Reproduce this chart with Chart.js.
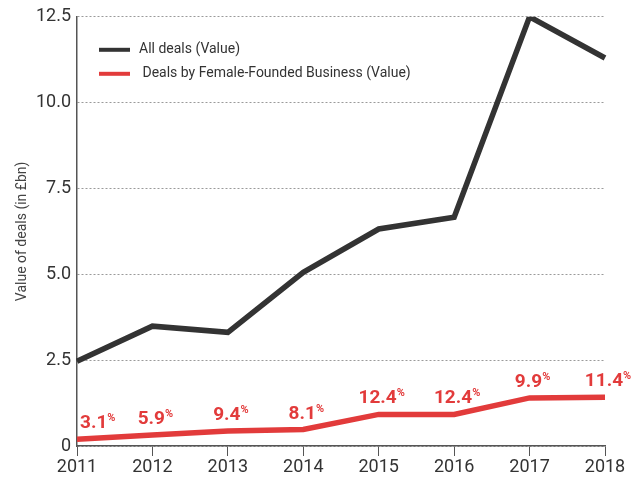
<!DOCTYPE html>
<html>
<head>
<meta charset="utf-8">
<script src="https://cdn.jsdelivr.net/npm/chart.js@4"></script>
<style>
  html, body { margin: 0; padding: 0; background: #fff; }
  #wrap { width: 638px; height: 481px; }
</style>
</head>
<body>
<div id="wrap"><canvas id="chart_deals" width="638" height="481"></canvas></div>
<script>
// values
let years = ['2011', '2012', '2013', '2014', '2015', '2016', '2017', '2018'],
    allDeals = [2.47, 3.49, 3.31, 5.06, 6.32, 6.66, 12.5, 11.3],
    femaleDeals = [0.2, 0.32, 0.44, 0.48, 0.92, 0.92, 1.4, 1.42],
    femaleShare = ['3.1', '5.9', '9.4', '8.1', '12.4', '12.4', '9.9', '11.4'],
    yTicks = [0, 2.5, 5, 7.5, 10, 12.5];

const FONT = 'Roboto, "DejaVu Sans", sans-serif';
const RED = '#e23b3b';
const DARK = '#333333';

// percentage labels above the red line
const shareLabels = {
  id: 'shareLabels',
  afterDatasetsDraw(chart) {
    let ctx = chart.ctx,
        meta = chart.getDatasetMeta(1);
    ctx.save();
    ctx.fillStyle = RED;
    ctx.textBaseline = 'alphabetic';
    meta.data.forEach((pt, i) => {
      let num = femaleShare[i];
      ctx.font = 'bold 19px ' + FONT;
      let w1 = ctx.measureText(num).width;
      ctx.font = 'bold 11px ' + FONT;
      let w2 = ctx.measureText('%').width;
      let total = w1 + w2;
      let cx = pt.x + 3;
      if (cx - total / 2 < chart.chartArea.left + 3) cx = chart.chartArea.left + 3 + total / 2;
      if (cx + total / 2 > chart.width - 3) cx = chart.width - 3 - total / 2;
      let x = cx - total / 2, y = pt.y - 11;
      ctx.font = 'bold 19px ' + FONT;
      ctx.textAlign = 'left';
      ctx.fillText(num, x, y);
      ctx.font = 'bold 11px ' + FONT;
      ctx.fillText('%', x + w1, y - 7);
    });
    ctx.restore();
  }
};

// legend drawn inside the plot, top left
const innerLegend = {
  id: 'innerLegend',
  afterDraw(chart) {
    let ctx = chart.ctx,
        a = chart.chartArea;
    ctx.save();
    ctx.font = '14px ' + FONT;
    ctx.textBaseline = 'middle';
    ctx.textAlign = 'left';
    chart.data.datasets.forEach((ds, i) => {
      let y = a.top + 33 + i * 24;
      ctx.strokeStyle = ds.borderColor;
      ctx.lineWidth = 4;
      ctx.beginPath();
      ctx.moveTo(a.left + 22, y);
      ctx.lineTo(a.left + 53, y);
      ctx.stroke();
      ctx.fillStyle = DARK;
      ctx.fillText(ds.label, a.left + 62, y);
    });
    ctx.restore();
  }
};

new Chart('chart_deals', {
  type: 'line',
  data: {
    labels: years,
    datasets: [{
      label: 'All deals (Value)',
      data: allDeals,
      borderColor: '#333333',
      borderWidth: 5.5,
      pointRadius: 0,
      tension: 0
    }, {
      label: ' Deals by Female-Founded Business (Value)',
      data: femaleDeals,
      borderColor: RED,
      borderWidth: 5.5,
      pointRadius: 0,
      tension: 0
    }]
  },
  options: {
    responsive: false,
    animation: false,
    layout: { padding: { left: 0, right: 33, top: 15, bottom: 0 } },
    plugins: {
      legend: { display: false },
      tooltip: { enabled: false }
    },
    scales: {
      x: {
        offset: false,
        grid: { drawOnChartArea: false, drawTicks: true, tickLength: 10, color: '#555' },
        border: { color: '#555', width: 1.5 },
        ticks: { color: DARK, font: { family: FONT, size: 18 }, padding: 1, maxRotation: 0 },
        afterFit(scale) { scale.height = 35; }
      },
      y: {
        min: 0,
        max: 12.5,
        afterBuildTicks(scale) { scale.ticks = yTicks.map(v => ({value: v})); },
        grid: { color: '#9a9a9a', drawTicks: false, lineWidth: 1 },
        border: { color: '#555', width: 1.5, dash: [2, 2] },
        ticks: {
          color: DARK,
          font: { family: FONT, size: 18 },
          padding: 6,
          callback: v => v === 0 ? '0' : v.toFixed(1)
        },
        title: {
          display: true,
          text: 'Value of deals (in £bn)',
          color: '#444',
          font: { family: FONT, size: 14 },
          padding: { top: 14, bottom: 4 }
        },
        afterFit(scale) { scale.width = 77; }
      }
    }
  },
  plugins: [shareLabels, innerLegend]
});
</script>
</body>
</html>
